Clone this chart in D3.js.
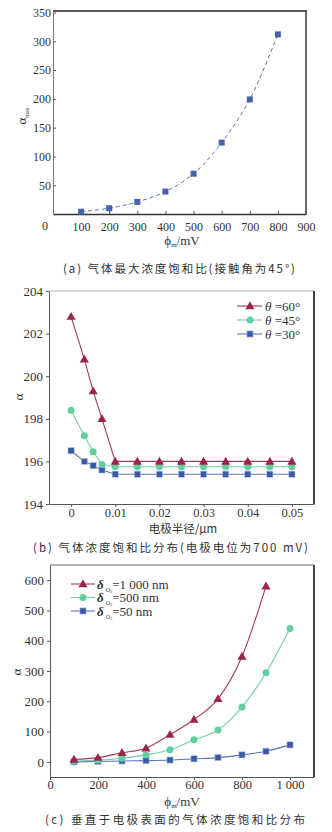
<!DOCTYPE html>
<html><head><meta charset="utf-8">
<script src="https://cdn.jsdelivr.net/npm/d3@7"></script>
<style>
html,body{margin:0;padding:0;background:#fff;}
svg{display:block;}
text{font-family:"Liberation Serif","DejaVu Serif",serif;fill:#333;}
.cjk{font-family:"Noto Sans CJK SC",sans-serif;}
</style></head>
<body>
<svg id="c" width="332" height="832"></svg>
<script>
// ---------- DATA ----------
// Panel (a)
const aX = [100, 200, 300, 400, 500, 600, 700, 800];
const aY = [4, 10, 21, 39, 70, 124, 199, 312];
const aXTicks = [100, 200, 300, 400, 500, 600, 700, 800, 900];
const aYTicks = [50, 100, 150, 200, 250, 300, 350];

// Panel (b)
const bX = [0, 0.003, 0.005, 0.007, 0.01, 0.015, 0.02, 0.025, 0.03, 0.035, 0.04, 0.045, 0.05];
const bTheta60 = [202.8, 200.8, 199.3, 198.0, 196.0, 196.0, 196.0, 196.0, 196.0, 196.0, 196.0, 196.0, 196.0];
const bTheta45 = [198.4, 197.2, 196.45, 195.85, 195.75, 195.75, 195.75, 195.75, 195.75, 195.75, 195.75, 195.75, 195.75];
const bTheta30 = [196.5, 196.0, 195.8, 195.6, 195.4, 195.4, 195.4, 195.4, 195.4, 195.4, 195.4, 195.4, 195.4];
const bXTicks = [0, 0.01, 0.02, 0.03, 0.04, 0.05];
const bXTickLabels = ["0", "0.01", "0.02", "0.03", "0.04", "0.05"];
const bYTicks = [194, 196, 198, 200, 202, 204];
const bLegend = ["60°", "45°", "30°"];

// Panel (c)
const cX1000 = [100, 200, 300, 400, 500, 600, 700, 800, 900];
const cY1000 = [8, 14, 30, 45, 90, 140, 208, 348, 580];
const cX500 = [100, 200, 300, 400, 500, 600, 700, 800, 900, 1000];
const cY500 = [3, 6, 12, 23, 40, 73, 105, 181, 294, 440];
const cX50 = [100, 200, 300, 400, 500, 600, 700, 800, 900, 1000];
const cY50 = [0, 1, 3, 4, 6, 10, 14, 23, 35, 56];
const cXTicks = [0, 200, 400, 600, 800, 1000];
const cXTickLabels = ["0", "200", "400", "600", "800", "1 000"];
const cYTicks = [0, 100, 200, 300, 400, 500, 600];
const cLegend = ["=1  000 nm", "=500 nm", "=50 nm"];

const captions = [
  "(a) 气体最大浓度饱和比(接触角为45°)",
  "(b) 气体浓度饱和比分布(电极电位为700 mV)",
  "(c) 垂直于电极表面的气体浓度饱和比分布"
];

// ---------- STYLE ----------
const RED = "#9b2449", RED_L = "#a3395a";
const GREEN = "#62cf9f", GREEN_L = "#72cfa6";
const BLUE = "#3a5aa8", BLUE_L = "#5a74b8";
const AXIS = "#555";

const svg = d3.select("#c");

function styleAxis(g, fs) {
  g.selectAll("path.domain").attr("stroke", AXIS).attr("stroke-width", 1);
  g.selectAll(".tick line").attr("stroke", AXIS);
  g.selectAll(".tick text").attr("font-size", fs).attr("fill", "#333")
    .attr("font-family", '"Liberation Serif","DejaVu Serif",serif');
}

function marker(g, type, x, y, color) {
  if (type === "tri") {
    g.append("path").attr("d", d3.symbol(d3.symbolTriangle, 36)()).attr("transform", `translate(${x},${y + 0.6})`).attr("fill", color);
  } else if (type === "circ") {
    g.append("circle").attr("cx", x).attr("cy", y).attr("r", 3.5).attr("fill", color);
  } else {
    g.append("rect").attr("x", x - 3.1).attr("y", y - 3.1).attr("width", 6.2).attr("height", 6.2).attr("fill", color)
      .attr("stroke", "#b8c6e6").attr("stroke-width", 0.6);
  }
}

// ---------- PANEL A ----------
{
  const L = 53, R = 306, T = 11, B = 214;
  const x = d3.scaleLinear().domain([0, 900]).range([L, R]);
  const y = d3.scaleLinear().domain([0, 350]).range([B, T + 1.5]);
  const g = svg.append("g");
  g.append("line").attr("x1", L).attr("x2", R + 1).attr("y1", T).attr("y2", T).attr("stroke", "#5a5a5a").attr("stroke-width", 2);
  g.append("line").attr("x1", R).attr("x2", R).attr("y1", T).attr("y2", B).attr("stroke", "#444").attr("stroke-width", 1.6);
  const xa = g.append("g").attr("transform", `translate(0,${B})`)
    .call(d3.axisBottom(x).tickValues(aXTicks).tickSizeInner(-3).tickSizeOuter(0).tickPadding(8));
  styleAxis(xa, 12);
  xa.select("path.domain").attr("stroke", "#333").attr("stroke-width", 1.3);
  const ya = g.append("g").attr("transform", `translate(${L},0)`)
    .call(d3.axisLeft(y).tickValues(aYTicks).tickSizeInner(-3).tickSizeOuter(0).tickPadding(2));
  styleAxis(ya, 12);
  ya.select("path.domain").attr("stroke", "#777");
  g.append("text").attr("x", 45).attr("y", 230).attr("text-anchor", "middle").attr("font-size", 12).text("0");
  const pts = aX.map((v, i) => [x(v), y(aY[i])]);
  g.append("path").attr("d", d3.line().curve(d3.curveCatmullRom.alpha(0.5))(pts))
    .attr("fill", "none").attr("stroke", "#5a72b4").attr("stroke-width", 1).attr("stroke-dasharray", "4,3");
  pts.forEach(p => g.append("rect").attr("x", p[0] - 3).attr("y", p[1] - 3).attr("width", 6).attr("height", 6).attr("fill", "#4862a8"));
  const yl = g.append("text").attr("transform", "translate(26,116) rotate(-90)").attr("text-anchor", "middle").attr("font-size", 13);
  yl.append("tspan").text("α");
  yl.append("tspan").attr("font-size", 6).attr("dy", 3).text("max");
  const xl = g.append("text").attr("x", 182).attr("y", 245).attr("text-anchor", "middle").attr("font-size", 13);
  xl.append("tspan").text("ϕ");
  xl.append("tspan").attr("font-size", 7).attr("dy", 2).text("m");
  xl.append("tspan").attr("dy", -2).text("/mV");
  g.append("text").attr("class", "cjk").attr("x", 63).attr("y", 273).attr("font-size", 11.5)
    .attr("textLength", 232).attr("lengthAdjust", "spacing").text(captions[0]);
}

// ---------- PANEL B ----------
{
  const L = 49, R = 314, T = 291, B = 504;
  const x = d3.scaleLinear().domain([-0.005, 0.055]).range([L, R]);
  const y = d3.scaleLinear().domain([194, 204]).range([B, T]);
  const g = svg.append("g");
  g.append("line").attr("x1", L).attr("x2", R).attr("y1", T).attr("y2", T).attr("stroke", "#999").attr("stroke-width", 0.8);
  g.append("line").attr("x1", R).attr("x2", R).attr("y1", T).attr("y2", B).attr("stroke", "#444").attr("stroke-width", 2);
  const xa = g.append("g").attr("transform", `translate(0,${B})`)
    .call(d3.axisBottom(x).tickValues(bXTicks).tickFormat((d, i) => bXTickLabels[i]).tickSizeInner(3).tickSizeOuter(0).tickPadding(1));
  styleAxis(xa, 12.5);
  const ya = g.append("g").attr("transform", `translate(${L},0)`)
    .call(d3.axisLeft(y).tickValues(bYTicks).tickSizeInner(3).tickSizeOuter(0).tickPadding(3));
  styleAxis(ya, 13);
  const series = [
    { v: bTheta60, c: RED, lc: RED_L, t: "tri" },
    { v: bTheta45, c: GREEN, lc: GREEN_L, t: "circ" },
    { v: bTheta30, c: BLUE, lc: BLUE_L, t: "sq" }
  ];
  const line = d3.line();
  series.slice().reverse().forEach(s => {
    const pts = bX.map((v, i) => [x(v), y(s.v[i])]);
    g.append("path").attr("d", line(pts)).attr("fill", "none").attr("stroke", s.lc).attr("stroke-width", 1.1);
    pts.forEach(p => marker(g, s.t, p[0], p[1], s.c));
  });
  series.forEach((s, i) => {
    const yy = 306 + i * 14;
    g.append("line").attr("x1", 237).attr("x2", 262).attr("y1", yy).attr("y2", yy).attr("stroke", s.lc).attr("stroke-width", 1.1);
    marker(g, s.t, 250, yy, s.c);
    const t = g.append("text").attr("x", 265).attr("y", yy + 4.5).attr("font-size", 13);
    t.append("tspan").attr("font-style", "italic").text("θ");
    t.append("tspan").text(" =" + bLegend[i]);
  });
  g.append("text").attr("transform", "translate(23,397) rotate(-90)").attr("text-anchor", "middle").attr("font-size", 13).text("α");
  g.append("text").attr("class", "cjk").attr("x", 183).attr("y", 533).attr("text-anchor", "middle").attr("font-size", 11.5).text("电极半径/μm");
  g.append("text").attr("class", "cjk").attr("x", 33).attr("y", 552).attr("font-size", 11.5)
    .attr("textLength", 275).attr("lengthAdjust", "spacing").text(captions[1]);
}

// ---------- PANEL C ----------
{
  const L = 50, R = 314, T = 565, B = 777;
  const x = d3.scaleLinear().domain([0, 1100]).range([L, R]);
  const y = d3.scaleLinear().domain([-50, 650]).range([B, T]);
  const g = svg.append("g");
  g.append("line").attr("x1", L).attr("x2", R).attr("y1", T).attr("y2", T).attr("stroke", "#666").attr("stroke-width", 1);
  g.append("line").attr("x1", R).attr("x2", R).attr("y1", T).attr("y2", B).attr("stroke", "#444").attr("stroke-width", 2);
  const xa = g.append("g").attr("transform", `translate(0,${B})`)
    .call(d3.axisBottom(x).tickValues(cXTicks).tickFormat((d, i) => cXTickLabels[i]).tickSizeInner(3).tickSizeOuter(0).tickPadding(0));
  styleAxis(xa, 12.5);
  const ya = g.append("g").attr("transform", `translate(${L},0)`)
    .call(d3.axisLeft(y).tickValues(cYTicks).tickSizeInner(3).tickSizeOuter(0).tickPadding(3));
  styleAxis(ya, 13);
  const series = [
    { xs: cX1000, v: cY1000, c: RED, lc: RED_L, t: "tri" },
    { xs: cX500, v: cY500, c: GREEN, lc: GREEN_L, t: "circ" },
    { xs: cX50, v: cY50, c: BLUE, lc: BLUE_L, t: "sq" }
  ];
  const line = d3.line().curve(d3.curveMonotoneX);
  series.slice().reverse().forEach(s => {
    const pts = s.xs.map((v, i) => [x(v), y(s.v[i])]);
    g.append("path").attr("d", line(pts)).attr("fill", "none").attr("stroke", s.lc).attr("stroke-width", 1.1);
    pts.forEach(p => marker(g, s.t, p[0], p[1], s.c));
  });
  series.forEach((s, i) => {
    const yy = 584 + i * 13.5;
    g.append("line").attr("x1", 71).attr("x2", 95).attr("y1", yy).attr("y2", yy).attr("stroke", s.lc).attr("stroke-width", 1.1);
    marker(g, s.t, 83, yy, s.c);
    const t = g.append("text").attr("x", 97).attr("y", yy + 4.5).attr("font-size", 13);
    t.append("tspan").attr("font-style", "italic").attr("font-weight", "bold").text("δ");
    t.append("tspan").attr("font-size", 6).attr("dx", 2).attr("dy", 3).text("O");
    t.append("tspan").attr("font-size", 4.5).attr("dy", 1).text("2");
    t.append("tspan").attr("dy", -4).text(cLegend[i]);
  });
  g.append("text").attr("transform", "translate(21,672) rotate(-90)").attr("text-anchor", "middle").attr("font-size", 13).text("α");
  const xl = g.append("text").attr("x", 182).attr("y", 806).attr("text-anchor", "middle").attr("font-size", 13);
  xl.append("tspan").text("ϕ");
  xl.append("tspan").attr("font-size", 7).attr("dy", 2).text("m");
  xl.append("tspan").attr("dy", -2).text("/mV");
  g.append("text").attr("class", "cjk").attr("x", 45).attr("y", 824).attr("font-size", 11.5)
    .attr("textLength", 260).attr("lengthAdjust", "spacing").text(captions[2]);
}
</script>
</body></html>
